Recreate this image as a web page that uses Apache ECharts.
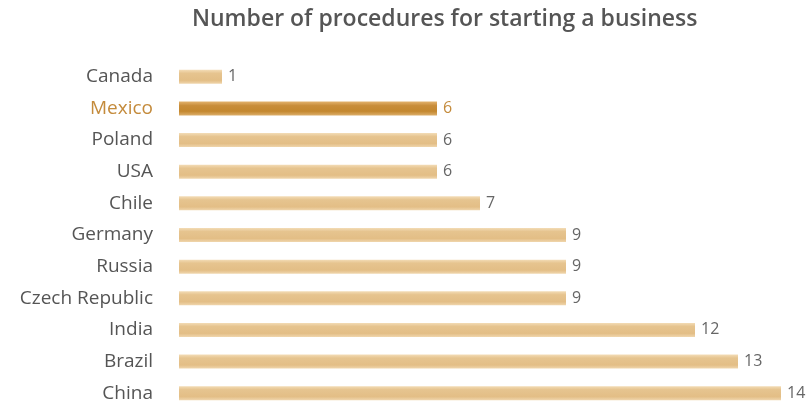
<!DOCTYPE html>
<html>
<head>
<meta charset="utf-8">
<script src="https://cdn.jsdelivr.net/npm/echarts@6/dist/echarts.min.js"></script>
<style>html,body{margin:0;padding:0;background:#fff;}#c{width:809px;height:409px;}</style>
</head>
<body>
<div id="c"></div>
<script>
const categories = ["Canada","Mexico","Poland","USA","Chile","Germany","Russia","Czech Republic","India","Brazil","China"];
const values = [1,6,6,6,7,9,9,9,12,13,14];
const highlight = "Mexico";
const titleText = "Number of procedures for starting a business";

const normalColor = new echarts.graphic.LinearGradient(0,0,0,1,[
  {offset:0,color:'#f3dcb6'},{offset:0.25,color:'#e6c48f'},{offset:0.75,color:'#e3be86'},{offset:1,color:'#f0d6ad'}]);
const hiColor = new echarts.graphic.LinearGradient(0,0,0,1,[
  {offset:0,color:'#e3b36e'},{offset:0.3,color:'#c88d3a'},{offset:0.7,color:'#c4882f'},{offset:1,color:'#dcae6a'}]);

const chart = echarts.init(document.getElementById('c'), null, {renderer:'canvas'});
chart.setOption({
  animation:false,
  title:{text:titleText,left:187,top:3,textStyle:{fontFamily:'Open Sans',fontWeight:600,fontSize:23,color:'#555'}},
  grid:{left:179,top:61,width:602,height:352},
  xAxis:{type:'value',min:0,max:14,show:false},
  yAxis:{type:'category',inverse:true,data:categories,
    axisLine:{show:false},axisTick:{show:false},
    axisLabel:{margin:26,fontFamily:'Open Sans',fontSize:19,
      color:(v)=> v===highlight ? '#c48b3c' : '#555'}},
  series:[{type:'bar',barWidth:14,
    data:values.map((v,i)=>({value:v,
      itemStyle:{color: categories[i]===highlight ? hiColor : normalColor},
      label:{color: categories[i]===highlight ? '#c48b3c' : '#666'}})),
    label:{show:true,position:'right',distance:6,fontFamily:'Open Sans',fontSize:16}
  }]
});
</script>
</body>
</html>
